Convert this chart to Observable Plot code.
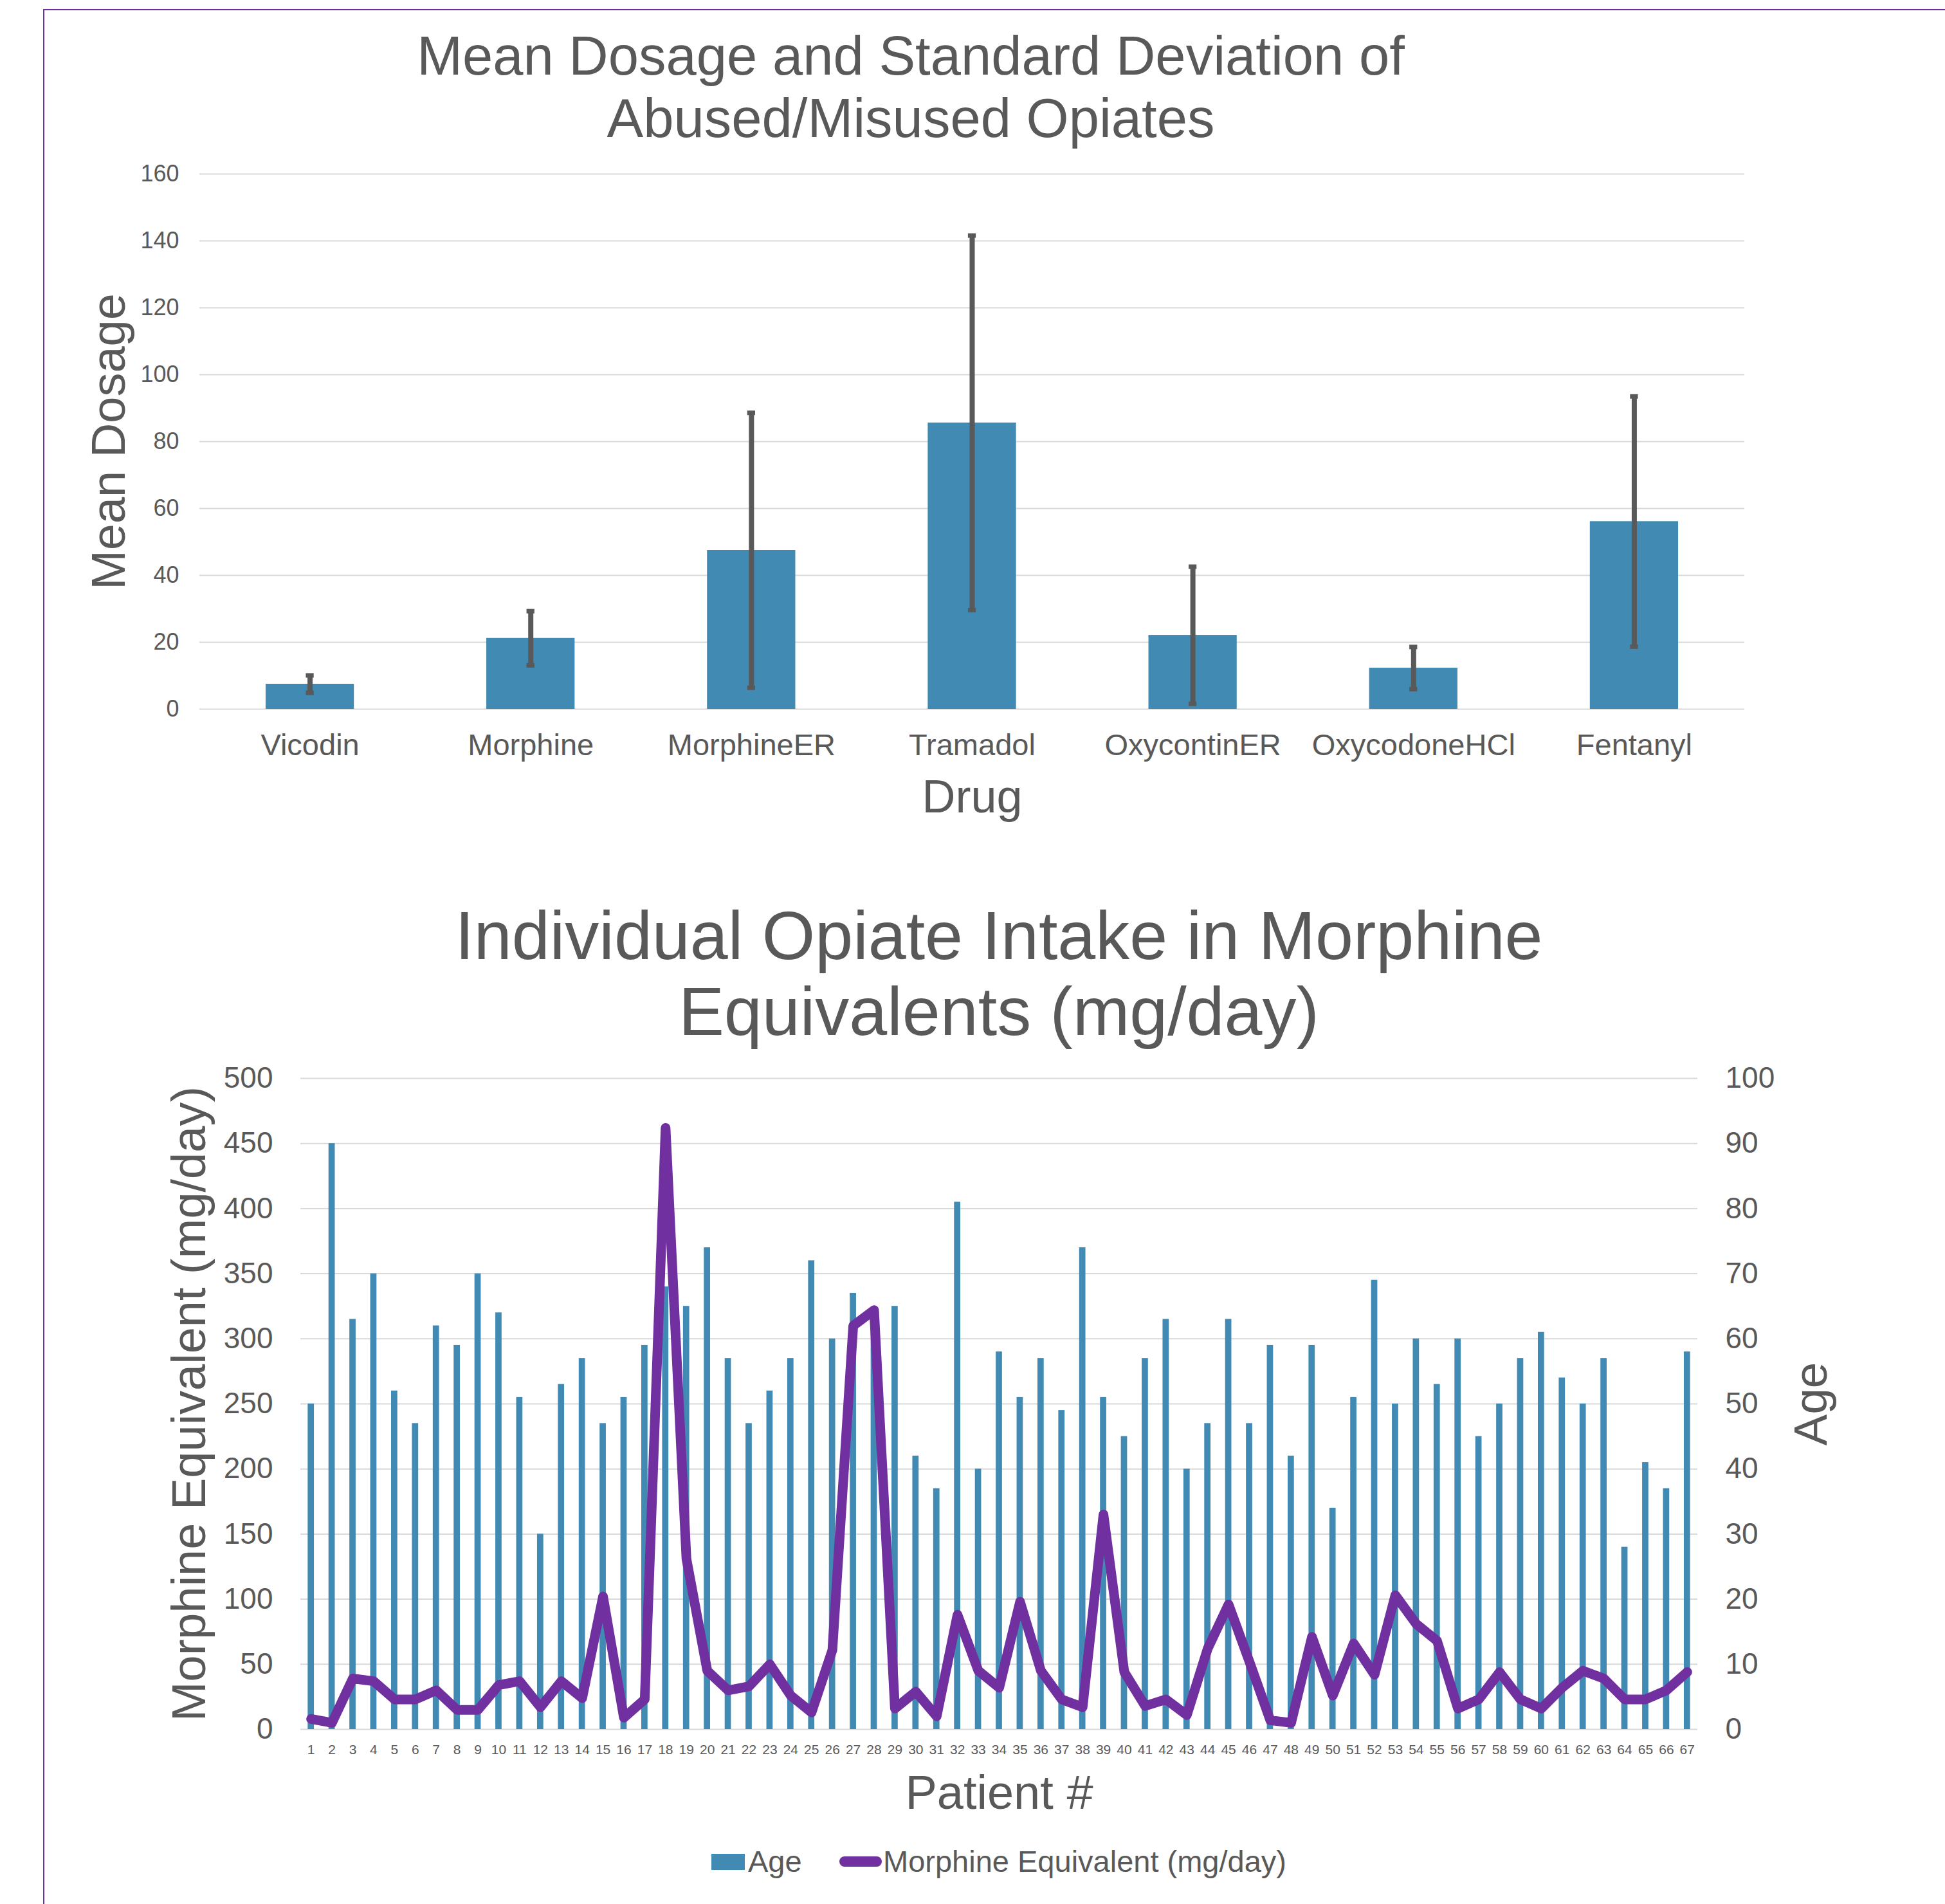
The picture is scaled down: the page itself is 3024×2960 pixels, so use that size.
<!DOCTYPE html>
<html>
<head>
<meta charset="utf-8">
<script src="https://cdn.jsdelivr.net/npm/d3@7"></script>
<script src="https://cdn.jsdelivr.net/npm/@observablehq/plot@0.6"></script>
<style>
  html, body { margin: 0; padding: 0; background: #ffffff; }
  #page { position: relative; width: 3024px; height: 2960px; overflow: hidden; background: #ffffff;
          font-family: "Liberation Sans", Arial, sans-serif; color: #595959; }
  .abs { position: absolute; }
  .title { text-align: center; white-space: nowrap; }
  .frame { left: 67px; top: 14px; width: 3100px; height: 3100px; border-left: 2px solid #7030a0; border-top: 2px solid #7030a0; }
  .legtext { font-size: 47px; line-height: 47px; white-space: nowrap; }
</style>
</head>
<body>
<div id="page">
  <div class="abs frame"></div>
  <div class="abs title" style="left:16px; width:2800px; top:38px; font-size:85px; line-height:97px;">Mean Dosage and Standard Deviation of<br>Abused/Misused Opiates</div>
  <div class="abs title" style="left:153px; width:2800px; top:1395px; font-size:106px; line-height:118px;">Individual Opiate Intake in Morphine<br>Equivalents (mg/day)</div>
  <div id="chart1" class="abs" style="left:0; top:240px;"></div>
  <div id="chart2" class="abs" style="left:0; top:1640px;"></div>
  <div class="abs" style="left:1106px; top:2882px; width:52px; height:25px; background:#418ab3;"></div>
  <div class="abs legtext" style="left:1163px; top:2870px;">Age</div>
  <div class="abs" style="left:1305px; top:2886px; width:66px; height:16px; border-radius:8px; background:#7030a0;"></div>
  <div class="abs legtext" style="left:1373px; top:2870px;">Morphine Equivalent (mg/day)</div>
</div>
<script>
// ---- Data: chart 1 ----
const drugs = ["Vicodin", "Morphine", "MorphineER", "Tramadol", "OxycontinER", "OxycodoneHCl", "Fentanyl"];
const meanDosage = [7.5, 21.2, 47.5, 85.6, 22.1, 12.3, 56.1];
const sdDosage = [2.6, 8.1, 41.1, 56.0, 20.5, 6.3, 37.4];
const dosageTicks = [0, 20, 40, 60, 80, 100, 120, 140, 160];

// ---- Data: chart 2 ----
const patientIds = d3.range(1, 68);
const ages = [50, 90, 63, 70, 52, 47, 62, 59, 70, 64,
              51, 30, 53, 57, 47, 51, 59, 68, 65, 74,
              57, 47, 52, 57, 72, 60, 67, 64, 65, 42,
              37, 81, 40, 58, 51, 57, 49, 74, 51, 45,
              57, 63, 40, 47, 63, 47, 59, 42, 59, 34,
              51, 69, 50, 60, 53, 60, 45, 50, 57, 61,
              54, 50, 57, 28, 41, 37, 58];
const morphineEq = [8, 5, 39, 37, 23, 23, 30, 15, 15, 34,
                    37, 17, 37, 24, 102, 9, 23, 462, 131, 45,
                    30, 33, 50, 26, 13, 61, 310, 322, 16, 29,
                    10, 88, 45, 32, 98, 45, 23, 17, 165, 44,
                    18, 23, 11, 62, 96, 52, 7, 5, 71, 26,
                    66, 42, 103, 81, 68, 16, 23, 44, 23, 16,
                    32, 45, 39, 23, 23, 30, 44];
const meTicks = [0, 50, 100, 150, 200, 250, 300, 350, 400, 450, 500];

const FONT = "'Liberation Sans', Arial, sans-serif";
const GRAY = "#595959";
const BLUE = "#418ab3";
const PURPLE = "#7030a0";
const GRID = "#d9d9d9";

const drugData = drugs.map((d, i) => ({drug: d, mean: meanDosage[i], sd: sdDosage[i]}));
const patients = patientIds.map((p, i) => ({patient: String(p), age: ages[i], me: morphineEq[i]}));

// ---- Chart 1 ----
const chart1 = Plot.plot({
  width: 3024,
  height: 1060,
  marginTop: 30,
  marginBottom: 198,
  marginLeft: 310,
  marginRight: 312,
  style: {fontFamily: FONT, color: GRAY, background: "transparent", overflow: "visible"},
  x: {domain: drugs, paddingInner: 0.6, paddingOuter: 0.3, round: false},
  y: {domain: [0, 160]},
  marks: [
    Plot.gridY(dosageTicks, {stroke: GRID, strokeWidth: 2, strokeOpacity: 1}),
    Plot.barY(drugData, {x: "drug", y: "mean", fill: BLUE}),
    Plot.ruleX(drugData, {x: "drug", y1: d => d.mean - d.sd, y2: d => d.mean + d.sd, stroke: GRAY, strokeWidth: 8}),
    Plot.tickY(drugData, {x: "drug", y: d => d.mean + d.sd, stroke: GRAY, strokeWidth: 7, insetLeft: 62.5, insetRight: 62.5}),
    Plot.tickY(drugData, {x: "drug", y: d => d.mean - d.sd, stroke: GRAY, strokeWidth: 7, insetLeft: 62.5, insetRight: 62.5}),
    Plot.axisY({ticks: dosageTicks, tickSize: 0, tickPadding: 32, fontSize: 36, label: null}),
    Plot.axisX({tickSize: 0, tickPadding: 38, fontSize: 47, label: null}),
    Plot.text(["Drug"], {text: d => d, frameAnchor: "bottom", textAnchor: "middle", lineAnchor: "middle", dy: 137, fontSize: 72, fill: GRAY}),
    Plot.text(["Mean Dosage"], {text: d => d, frameAnchor: "left", textAnchor: "middle", lineAnchor: "middle", rotate: -90, dx: -140, fontSize: 74, fill: GRAY})
  ]
});
document.getElementById("chart1").appendChild(chart1);

// ---- Chart 2 ----
const chart2 = Plot.plot({
  width: 3024,
  height: 1200,
  marginTop: 36,
  marginBottom: 152,
  marginLeft: 467,
  marginRight: 385,
  style: {fontFamily: FONT, color: GRAY, background: "transparent", overflow: "visible"},
  x: {domain: patients.map(d => d.patient), paddingInner: 0.7, paddingOuter: 0.35, round: false},
  y: {domain: [0, 500]},
  marks: [
    Plot.gridY(meTicks, {stroke: GRID, strokeWidth: 2, strokeOpacity: 1}),
    // Age on the right-hand axis (0–100), drawn on the shared y scale (×5)
    Plot.barY(patients, {x: "patient", y: d => d.age * 5, fill: BLUE}),
    Plot.line(patients, {x: "patient", y: "me", stroke: PURPLE, strokeWidth: 15, strokeLinejoin: "round", strokeLinecap: "round"}),
    Plot.axisY({anchor: "left", ticks: meTicks, tickSize: 0, tickPadding: 43, fontSize: 46, label: null}),
    Plot.axisY({anchor: "right", ticks: meTicks, tickFormat: d => d / 5, tickSize: 0, tickPadding: 43, fontSize: 46, label: null}),
    Plot.axisX({tickSize: 0, tickPadding: 24, fontSize: 21, label: null}),
    Plot.text(["Patient #"], {text: d => d, frameAnchor: "bottom", textAnchor: "middle", lineAnchor: "middle", dy: 100, fontSize: 74, fill: GRAY}),
    Plot.text(["Morphine Equivalent (mg/day)"], {text: d => d, frameAnchor: "left", textAnchor: "middle", lineAnchor: "middle", rotate: -90, dx: -172, fontSize: 74, fill: GRAY}),
    Plot.text(["Age"], {text: d => d, frameAnchor: "right", textAnchor: "middle", lineAnchor: "middle", rotate: -90, dx: 177, fontSize: 73, fill: GRAY})
  ]
});
document.getElementById("chart2").appendChild(chart2);
</script>
</body>
</html>
